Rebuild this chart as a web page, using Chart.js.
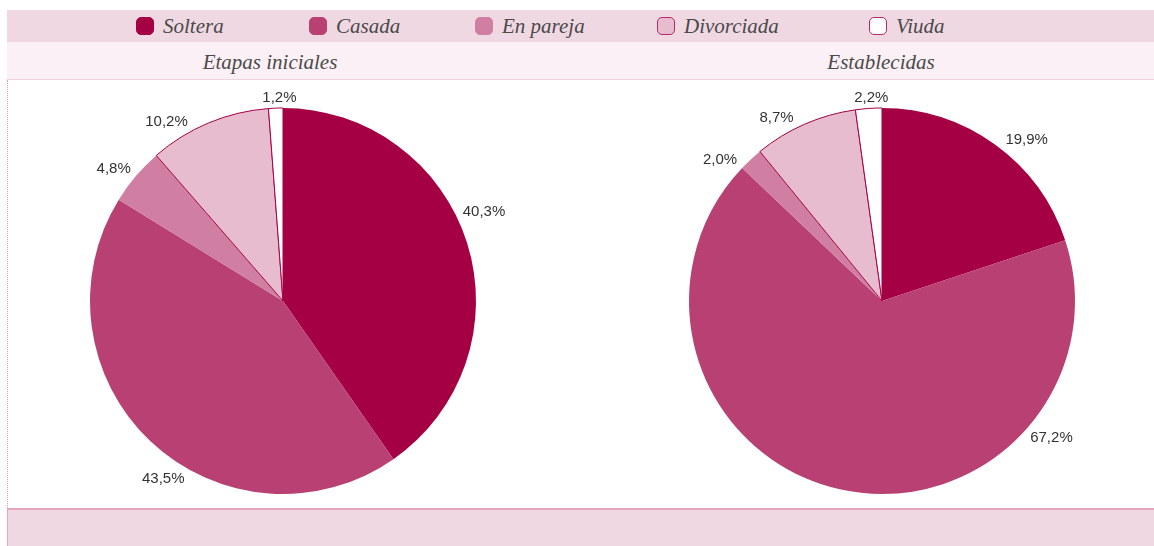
<!DOCTYPE html>
<html>
<head>
<meta charset="utf-8">
<script src="https://cdn.jsdelivr.net/npm/chart.js@4"></script>
<style>
    body { margin: 0; width: 1154px; height: 546px; background: #ffffff; position: relative; overflow: hidden; }
    .band { position: absolute; left: 7px; right: 0; }
    #legendBand { top: 10px; height: 32px; background: #f0d8e2; }
    #titleBand { top: 42px; height: 37px; background: #fbf0f5; border-bottom: 1px solid #efd3df; }
    #bottomBand { top: 508px; height: 38px; background: #f0d8e2; border-top: 2px solid #e2a6c0; border-left: 1px solid #e2a6c0; }
    #leftLine { position: absolute; left: 7px; top: 80px; height: 428px; border-left: 1px dotted #e09ab8; }
    .legendItem { position: absolute; top: 14px; height: 24px; display: flex; align-items: center;
        font: italic 21px "Liberation Serif", "Times New Roman", serif; color: #4a4a4a; }
    .swatch { width: 16px; height: 16px; border-radius: 5px; margin-right: 9px; border: 1px solid transparent; }
    .title { position: absolute; top: 50px; font: italic 21px "Liberation Serif", "Times New Roman", serif;
        color: #4a4a4a; transform: translateX(-50%); white-space: nowrap; }
    canvas { position: absolute; top: 80px; }
</style>
</head>
<body>
<div class="band" id="legendBand"></div>
<div class="band" id="titleBand"></div>
<div class="band" id="bottomBand"></div>
<div id="leftLine"></div>
<div id="legend"></div>
<div class="title" style="left:270px">Etapas iniciales</div>
<div class="title" style="left:881px">Establecidas</div>
<canvas id="pieLeft" width="540" height="428" style="left:13px"></canvas>
<canvas id="pieRight" width="540" height="428" style="left:612px"></canvas>

<script>
const categories = ['Soltera', 'Casada', 'En pareja', 'Divorciada', 'Viuda'];
const etapasIniciales = [40.3, 43.5, 4.8, 10.2, 1.2];
const establecidas = [19.9, 67.2, 2.0, 8.7, 2.2];

const sliceColors = ['#a50044', '#b94072', '#d07ea2', '#e8bccf', '#ffffff'];
const sliceBorders = [0, 0, 0, 1, 1];
const edgeColor = '#a50044';

// legend (html, so the text stays text)
const legendX = [136, 309, 475, 657, 869];
const legendEl = document.getElementById('legend');
categories.forEach((name, i) => {
    const item = document.createElement('div');
    item.className = 'legendItem';
    item.style.left = legendX[i] + 'px';
    const sw = document.createElement('span');
    sw.className = 'swatch';
    sw.style.background = sliceColors[i];
    if (sliceBorders[i]) sw.style.borderColor = '#b8286c';
    else sw.style.borderColor = sliceColors[i];
    item.appendChild(sw);
    item.appendChild(document.createTextNode(name));
    legendEl.appendChild(item);
});

const fmt = v => v.toFixed(1).replace('.', ',') + '%';

// percentage labels outside the pie
const outsideLabels = {
    id: 'outsideLabels',
    afterDatasetsDraw(chart, args, opts) {
        const ctx = chart.ctx;
        const meta = chart.getDatasetMeta(0);
        const values = chart.data.datasets[0].data;
        ctx.save();
        ctx.font = '15px "Liberation Sans", Arial, sans-serif';
        ctx.fillStyle = '#333333';
        ctx.textAlign = 'center';
        ctx.textBaseline = 'middle';
        meta.data.forEach((arc, i) => {
            const p = arc.getProps(['x', 'y', 'startAngle', 'endAngle', 'outerRadius'], true);
            let a = (p.startAngle + p.endAngle) / 2 + Math.PI / 2;
            if (opts.angles && opts.angles[i] != null) a = opts.angles[i] * Math.PI / 180;
            const text = fmt(values[i]);
            const hw = ctx.measureText(text).width / 2;
            const hh = 4;
            const s = Math.sin(a), c = -Math.cos(a);
            const d = p.outerRadius + 6 + hw * Math.abs(s) + hh * Math.abs(c);
            ctx.fillText(text, p.x + s * d, p.y + c * d);
        });
        ctx.restore();
    }
};

function makePie(id, values, labelAngles) {
    return new Chart(document.getElementById(id), {
        type: 'pie',
        data: {
            labels: categories,
            datasets: [{
                data: values,
                backgroundColor: sliceColors,
                borderColor: edgeColor,
                borderWidth: sliceBorders
            }]
        },
        options: {
            responsive: false,
            animation: false,
            events: [],
            radius: 193,
            layout: { padding: { top: 14 } },
            plugins: {
                legend: { display: false },
                tooltip: { enabled: false },
                outsideLabels: { angles: labelAngles }
            }
        },
        plugins: [outsideLabels]
    });
}

makePie('pieLeft', etapasIniciales, [66, 214, 308, 327, 359]);
makePie('pieRight', establecidas, [42, 129, 311, 330, 357]);
</script>
</body>
</html>
